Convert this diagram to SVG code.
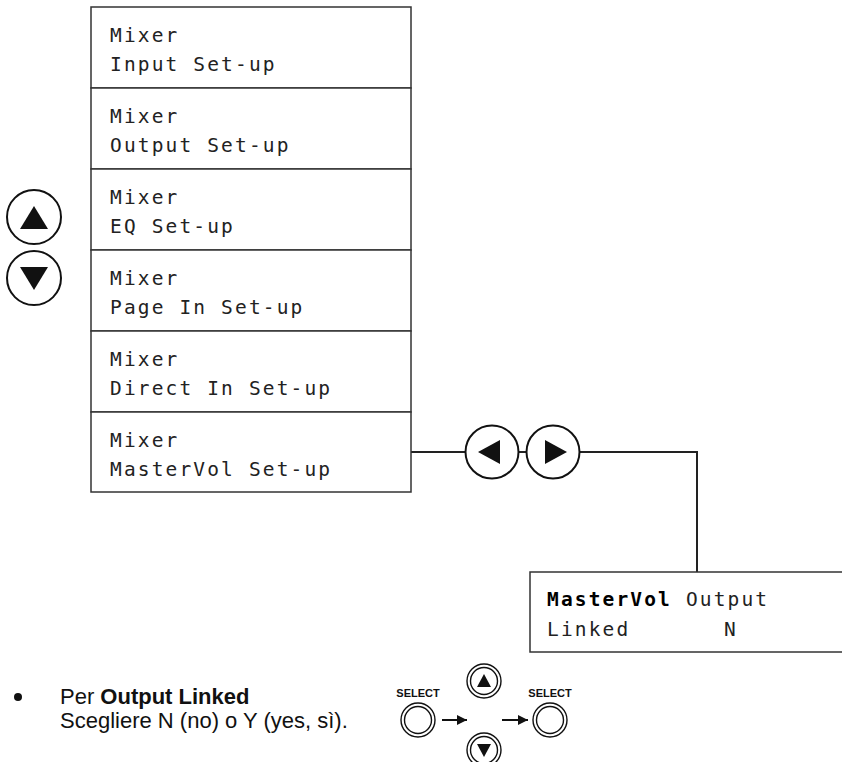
<svg xmlns="http://www.w3.org/2000/svg" width="842" height="762" viewBox="0 0 842 762">
<defs>
<style>
.box{fill:#fff;stroke:#333;stroke-width:1.5}
.lcd{font-family:"DejaVu Sans Mono","Liberation Mono",monospace;font-size:19.5px;letter-spacing:2.15px;fill:#222}
.lcdb{font-weight:bold;fill:#000}
.btn{fill:#fff;stroke:#111;stroke-width:2}
.tri{fill:#111}
.sbtn{fill:none;stroke:#111;stroke-width:1.4}
.sel{font-family:"Liberation Sans",Arial,sans-serif;font-size:11px;font-weight:bold;fill:#111;text-anchor:middle}
.body{font-family:"Liberation Sans",Arial,sans-serif;font-size:22px;fill:#111}
.conn{fill:none;stroke:#222;stroke-width:2}
</style>
<marker id="ah" viewBox="0 0 10 10" refX="10" refY="5" markerWidth="10" markerHeight="10" markerUnits="userSpaceOnUse" orient="auto"><path d="M0,0 L10,5 L0,10 z" fill="#111"/></marker>
</defs>
<rect width="842" height="762" fill="#fff"/>

<g id="connectors">
<polyline class="conn" points="411,452 466,452"/>
<polyline class="conn" points="519,452 527,452"/>
<polyline class="conn" points="579,452 697,452 697,572"/>
</g>

<g id="row-input">
<rect class="box" x="91" y="7" width="320" height="81"/>
<text class="lcd" x="110" y="42">Mixer</text>
<text class="lcd" x="110" y="71">Input Set-up</text>
</g>
<g id="row-output">
<rect class="box" x="91" y="88" width="320" height="81"/>
<text class="lcd" x="110" y="123">Mixer</text>
<text class="lcd" x="110" y="152">Output Set-up</text>
</g>
<g id="row-eq">
<rect class="box" x="91" y="169" width="320" height="81"/>
<text class="lcd" x="110" y="204">Mixer</text>
<text class="lcd" x="110" y="233">EQ Set-up</text>
</g>
<g id="row-page">
<rect class="box" x="91" y="250" width="320" height="81"/>
<text class="lcd" x="110" y="285">Mixer</text>
<text class="lcd" x="110" y="314">Page In Set-up</text>
</g>
<g id="row-direct">
<rect class="box" x="91" y="331" width="320" height="81"/>
<text class="lcd" x="110" y="366">Mixer</text>
<text class="lcd" x="110" y="395">Direct In Set-up</text>
</g>
<g id="row-mastervol">
<rect class="box" x="91" y="412" width="320" height="80"/>
<text class="lcd" x="110" y="447">Mixer</text>
<text class="lcd" x="110" y="476">MasterVol Set-up</text>
</g>

<g id="btn-up">
<circle class="btn" cx="34" cy="217" r="27"/>
<polygon class="tri" points="34,206 48,229 20,229"/>
</g>
<g id="btn-down">
<circle class="btn" cx="34" cy="278" r="27"/>
<polygon class="tri" points="20,267 48,267 34,290"/>
</g>

<g id="btn-left">
<circle class="btn" cx="492" cy="452" r="26.5"/>
<polygon class="tri" points="478,452 500,440 500,464"/>
</g>
<g id="btn-right">
<circle class="btn" cx="553" cy="452" r="26.5"/>
<polygon class="tri" points="567,452 545,440 545,464"/>
</g>

<g id="mastervol-output">
<rect class="box" x="530" y="572" width="320" height="80"/>
<text class="lcd" x="547" y="606"><tspan class="lcdb">MasterVol</tspan> Output</text>
<text class="lcd" x="547" y="636">Linked</text>
<text class="lcd" x="724" y="636">N</text>
</g>

<g id="instruction">
<circle cx="18" cy="697" r="4" fill="#111"/>
<text class="body" x="60" y="704">Per <tspan font-weight="bold">Output Linked</tspan></text>
<text class="body" x="60" y="728">Scegliere N (no) o Y (yes, sì).</text>
</g>

<g id="select-seq">
<text class="sel" x="418" y="697">SELECT</text>
<circle class="sbtn" cx="418" cy="720" r="17"/>
<circle class="sbtn" cx="418" cy="720" r="13.5"/>
<line x1="442" y1="720" x2="467" y2="720" stroke="#111" stroke-width="2" marker-end="url(#ah)"/>
<circle class="sbtn" cx="484" cy="681" r="17"/>
<circle class="sbtn" cx="484" cy="681" r="13.5"/>
<polygon class="tri" points="484,674 491,687 477,687"/>
<circle class="sbtn" cx="484" cy="750" r="17"/>
<circle class="sbtn" cx="484" cy="750" r="13.5"/>
<polygon class="tri" points="477,744 491,744 484,757"/>
<line x1="502" y1="720" x2="528" y2="720" stroke="#111" stroke-width="2" marker-end="url(#ah)"/>
<text class="sel" x="550" y="697">SELECT</text>
<circle class="sbtn" cx="550" cy="720" r="17"/>
<circle class="sbtn" cx="550" cy="720" r="13.5"/>
</g>
</svg>
